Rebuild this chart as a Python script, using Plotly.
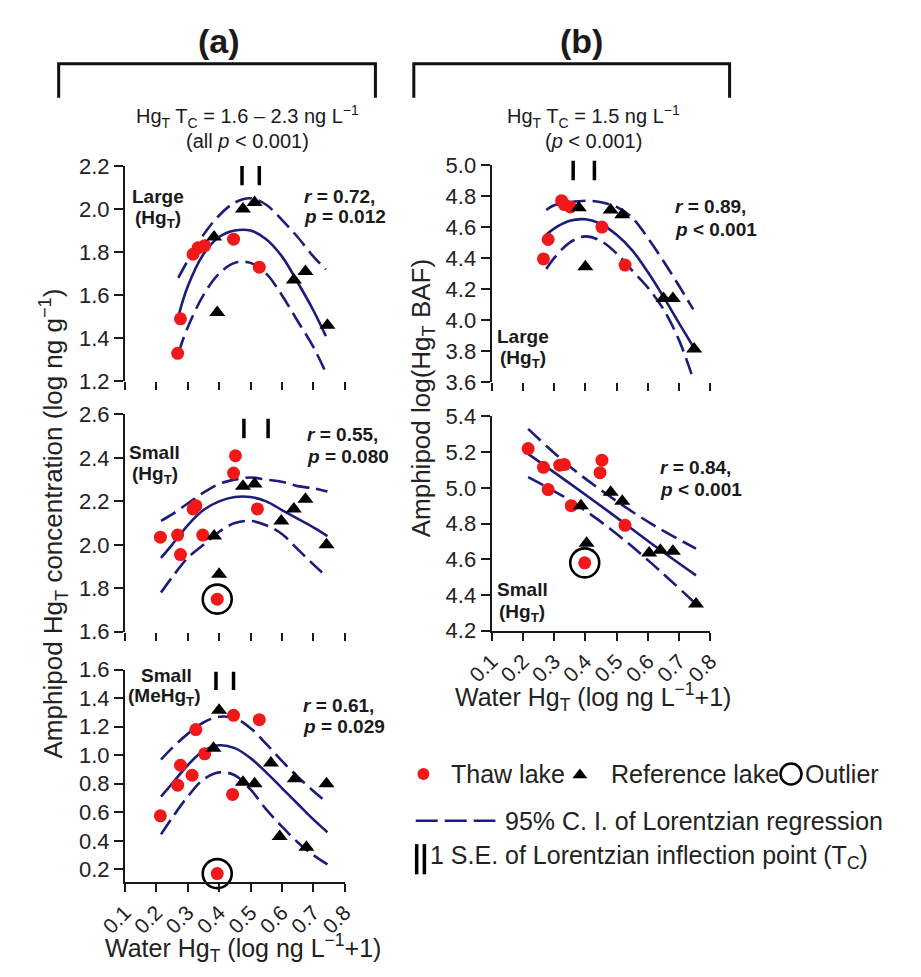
import plotly.graph_objects as go

W, H = 921, 977
FONT = "Liberation Sans, Arial, sans-serif"
NAVY = "#1c1c7a"
RED = "#f01818"
INK = "#1a1a1a"

# ---------------- data ----------------
x_ticks = [0.1, 0.2, 0.3, 0.4, 0.5, 0.6, 0.7, 0.8]
x_ticklabels = ["0.1", "0.2", "0.3", "0.4", "0.5", "0.6", "0.7", "0.8"]

# (a) top: Large, HgT
a1_thaw_x = [0.268, 0.277, 0.317, 0.333, 0.354, 0.446, 0.528]
a1_thaw_y = [1.33, 1.49, 1.79, 1.82, 1.83, 1.86, 1.73]
a1_ref_x = [0.384, 0.394, 0.476, 0.513, 0.638, 0.675, 0.745]
a1_ref_y = [1.87, 1.52, 2.00, 2.03, 1.67, 1.71, 1.46]
a1_fit_x = [0.27, 0.30, 0.35, 0.40, 0.45, 0.50, 0.55, 0.60, 0.65, 0.70, 0.74]
a1_fit = [1.50, 1.64, 1.79, 1.87, 1.90, 1.90, 1.86, 1.78, 1.66, 1.53, 1.41]
a1_hi = [1.68, 1.76, 1.88, 1.97, 2.03, 2.05, 2.02, 1.95, 1.87, 1.78, 1.72]
a1_lo = [1.33, 1.45, 1.60, 1.70, 1.75, 1.75, 1.70, 1.60, 1.48, 1.36, 1.24]
a1_tc_se = [0.473, 0.528]
a1_yticks = [1.2, 1.4, 1.6, 1.8, 2.0, 2.2]

# (a) middle: Small, HgT
a2_thaw_x = [0.213, 0.268, 0.277, 0.317, 0.326, 0.348, 0.446, 0.452, 0.522]
a2_thaw_y = [2.035, 2.045, 1.955, 2.165, 2.18, 2.045, 2.33, 2.41, 2.165]
a2_out_x = [0.394]
a2_out_y = [1.75]
a2_ref_x = [0.384, 0.400, 0.476, 0.513, 0.598, 0.638, 0.675, 0.742]
a2_ref_y = [2.04, 1.865, 2.27, 2.28, 2.11, 2.165, 2.21, 2.00]
a2_fit_x = [0.215, 0.25, 0.30, 0.35, 0.40, 0.45, 0.50, 0.55, 0.60, 0.65, 0.70, 0.745]
a2_fit = [1.94, 2.00, 2.09, 2.16, 2.20, 2.22, 2.22, 2.20, 2.16, 2.12, 2.08, 2.04]
a2_hi = [2.11, 2.14, 2.19, 2.24, 2.28, 2.30, 2.31, 2.30, 2.29, 2.27, 2.26, 2.245]
a2_lo = [1.78, 1.85, 1.94, 2.00, 2.06, 2.10, 2.11, 2.09, 2.05, 1.98, 1.91, 1.85]
a2_tc_se = [0.479, 0.556]
a2_yticks = [1.6, 1.8, 2.0, 2.2, 2.4, 2.6]

# (a) bottom: Small, MeHgT
a3_thaw_x = [0.213, 0.268, 0.277, 0.314, 0.326, 0.354, 0.443, 0.446, 0.528]
a3_thaw_y = [0.575, 0.79, 0.93, 0.86, 1.18, 1.01, 0.725, 1.28, 1.25]
a3_out_x = [0.394]
a3_out_y = [0.17]
a3_ref_x = [0.382, 0.400, 0.476, 0.513, 0.565, 0.593, 0.641, 0.678, 0.742]
a3_ref_y = [1.05, 1.315, 0.81, 0.80, 0.945, 0.43, 0.835, 0.355, 0.80]
a3_fit_x = [0.215, 0.25, 0.30, 0.35, 0.40, 0.45, 0.50, 0.55, 0.60, 0.65, 0.70, 0.745]
a3_fit = [0.71, 0.80, 0.93, 1.03, 1.07, 1.05, 0.98, 0.88, 0.77, 0.66, 0.55, 0.46]
a3_hi = [0.97, 1.05, 1.15, 1.23, 1.27, 1.26, 1.19, 1.08, 0.96, 0.85, 0.75, 0.665]
a3_lo = [0.445, 0.56, 0.71, 0.83, 0.88, 0.86, 0.76, 0.62, 0.50, 0.39, 0.30, 0.235]
a3_tc_se = [0.390, 0.446]
a3_yticks = [0.2, 0.4, 0.6, 0.8, 1.0, 1.2, 1.4, 1.6]

# (b) top: Large, HgT BAF
b1_thaw_x = [0.266, 0.281, 0.324, 0.333, 0.352, 0.453, 0.527]
b1_thaw_y = [4.395, 4.52, 4.77, 4.745, 4.73, 4.60, 4.355]
b1_ref_x = [0.379, 0.400, 0.481, 0.518, 0.650, 0.680, 0.748]
b1_ref_y = [4.725, 4.345, 4.71, 4.68, 4.14, 4.14, 3.815]
b1_fit_x = [0.275, 0.30, 0.35, 0.40, 0.45, 0.50, 0.55, 0.60, 0.65, 0.70, 0.745]
b1_fit = [4.55, 4.59, 4.64, 4.65, 4.62, 4.55, 4.45, 4.31, 4.15, 3.98, 3.83]
b1_hi = [4.71, 4.74, 4.76, 4.77, 4.76, 4.73, 4.66, 4.53, 4.38, 4.22, 4.07]
b1_lo = [4.33, 4.40, 4.50, 4.54, 4.51, 4.43, 4.32, 4.21, 4.07, 3.87, 3.62]
b1_tc_se = [0.361, 0.429]
b1_yticks = [3.6, 3.8, 4.0, 4.2, 4.4, 4.6, 4.8, 5.0]

# (b) bottom: Small, HgT BAF
b2_thaw_x = [0.217, 0.266, 0.281, 0.318, 0.333, 0.355, 0.447, 0.453, 0.527]
b2_thaw_y = [5.22, 5.115, 4.99, 5.127, 5.13, 4.90, 5.085, 5.155, 4.79]
b2_out_x = [0.398]
b2_out_y = [4.58]
b2_ref_x = [0.386, 0.404, 0.481, 0.518, 0.604, 0.640, 0.680, 0.754]
b2_ref_y = [4.90, 4.69, 4.975, 4.925, 4.635, 4.65, 4.645, 4.35]
b2_fit_x = [0.217, 0.35, 0.48, 0.61, 0.754]
b2_fit = [5.19, 5.025, 4.86, 4.69, 4.51]
b2_hi = [5.33, 5.12, 4.95, 4.80, 4.66]
b2_lo = [5.06, 4.93, 4.77, 4.58, 4.35]
b2_yticks = [4.2, 4.4, 4.6, 4.8, 5.0, 5.2, 5.4]


def px(x):
    return x / W


def py(y):
    return 1 - y / H


fig = go.Figure()

panels = [
    dict(n="", thaw=(a1_thaw_x, a1_thaw_y), ref=(a1_ref_x, a1_ref_y), out=None,
         fit=(a1_fit_x, a1_fit, a1_hi, a1_lo), tc=a1_tc_se, ypx=(158, 379),
         rng=[1.2, 2.2], yt=a1_yticks, left=True, bottom=False, se=(0.91, 1.0)),
    dict(n="2", thaw=(a2_thaw_x, a2_thaw_y), ref=(a2_ref_x, a2_ref_y), out=(a2_out_x, a2_out_y),
         fit=(a2_fit_x, a2_fit, a2_hi, a2_lo), tc=a2_tc_se, ypx=(413, 636),
         rng=[1.6, 2.6], yt=a2_yticks, left=True, bottom=False, se=(0.89, 0.98)),
    dict(n="3", thaw=(a3_thaw_x, a3_thaw_y), ref=(a3_ref_x, a3_ref_y), out=(a3_out_x, a3_out_y),
         fit=(a3_fit_x, a3_fit, a3_hi, a3_lo), tc=a3_tc_se, ypx=(675, 893),
         rng=[0.11, 1.6], yt=a3_yticks, left=True, bottom=True, se=(0.905, 0.99)),
    dict(n="4", thaw=(b1_thaw_x, b1_thaw_y), ref=(b1_ref_x, b1_ref_y), out=None,
         fit=(b1_fit_x, b1_fit, b1_hi, b1_lo), tc=b1_tc_se, ypx=(157, 380),
         rng=[3.6, 5.0], yt=b1_yticks, left=False, bottom=False, se=(0.93, 1.02)),
    dict(n="5", thaw=(b2_thaw_x, b2_thaw_y), ref=(b2_ref_x, b2_ref_y), out=(b2_out_x, b2_out_y),
         fit=(b2_fit_x, b2_fit, b2_hi, b2_lo), tc=None, ypx=(415, 635),
         rng=[4.2, 5.4], yt=b2_yticks, left=False, bottom=True, se=None),
]

LEFT_X = [px(102), px(331)]
RIGHT_X = [px(484), px(712)]

shapes = []
layout_axes = {}

for p in panels:
    n = p["n"]
    xa = "x" + n
    ya = "y" + n
    fx, fy, fhi, flo = p["fit"]
    for yy in (fhi, flo):
        fig.add_trace(go.Scatter(x=fx, y=yy, mode="lines",
                                 line=dict(color=NAVY, width=2.6, dash="17px,7px", shape="spline"),
                                 xaxis=xa, yaxis=ya, hoverinfo="skip"))
    fig.add_trace(go.Scatter(x=fx, y=fy, mode="lines", line=dict(color=NAVY, width=2.6, shape="spline"),
                             xaxis=xa, yaxis=ya, hoverinfo="skip"))
    fig.add_trace(go.Scatter(x=p["thaw"][0], y=p["thaw"][1], mode="markers",
                             marker=dict(color=RED, size=13, line=dict(width=0)),
                             xaxis=xa, yaxis=ya, cliponaxis=False))
    fig.add_trace(go.Scatter(x=p["ref"][0], y=p["ref"][1], mode="markers",
                             marker=dict(color="black", size=14, symbol="triangle-up", line=dict(width=0)),
                             xaxis=xa, yaxis=ya, cliponaxis=False))
    if p["out"] is not None:
        fig.add_trace(go.Scatter(x=p["out"][0], y=p["out"][1], mode="markers",
                                 marker=dict(color=RED, size=13, line=dict(width=0)),
                                 xaxis=xa, yaxis=ya, cliponaxis=False))
        fig.add_trace(go.Scatter(x=p["out"][0], y=p["out"][1], mode="markers",
                                 marker=dict(color="black", size=29, symbol="circle-open",
                                             line=dict(color="black", width=2.6)),
                                 xaxis=xa, yaxis=ya, cliponaxis=False))
    if p["tc"] is not None:
        for xv in p["tc"]:
            shapes.append(dict(type="line", xref=xa, yref=ya + " domain", x0=xv, x1=xv,
                               y0=p["se"][0], y1=p["se"][1], line=dict(color="black", width=3.5)))

    top, bot = p["ypx"]
    xdom = LEFT_X if p["left"] else RIGHT_X
    xcfg = dict(domain=xdom, range=[0.1, 0.8], anchor=ya, tickvals=x_ticks, ticks="outside",
                ticklen=8, tickwidth=2, tickcolor=INK, showgrid=False, zeroline=False)
    if p["bottom"]:
        xcfg.update(showline=True, linecolor=INK, linewidth=2, showticklabels=True,
                    ticktext=x_ticklabels, tickangle=-45,
                    tickfont=dict(family=FONT, size=21, color="#222"))
    else:
        xcfg.update(showline=False, showticklabels=False)
    ycfg = dict(domain=[py(bot), py(top)], range=p["rng"], anchor=xa, tickvals=p["yt"],
                ticktext=["%.1f" % v for v in p["yt"]], ticks="outside", ticklen=9, tickwidth=2,
                tickcolor=INK, showline=True, linecolor=INK, linewidth=2, showgrid=False,
                zeroline=False, tickfont=dict(family=FONT, size=22, color="#222"))
    layout_axes["xaxis" + n] = xcfg
    layout_axes["yaxis" + n] = ycfg

# overlay pixel axis for the legend samples
layout_axes["xaxis6"] = dict(domain=[0, 1], range=[0, W], visible=False, anchor="y6")
layout_axes["yaxis6"] = dict(domain=[0, 1], range=[H, 0], visible=False, anchor="x6")

fig.add_trace(go.Scatter(x=[413], y=[782], mode="markers", marker=dict(color=RED, size=12),
                         xaxis="x6", yaxis="y6"))
fig.add_trace(go.Scatter(x=[576], y=[783], mode="markers",
                         marker=dict(color="black", size=13, symbol="triangle-up"),
                         xaxis="x6", yaxis="y6"))
fig.add_trace(go.Scatter(x=[796], y=[782], mode="markers",
                         marker=dict(color="black", size=21, symbol="circle-open",
                                     line=dict(color="black", width=2.5)),
                         xaxis="x6", yaxis="y6"))
fig.add_trace(go.Scatter(x=[405, 488], y=[830, 830], mode="lines",
                         line=dict(color=NAVY, width=2.6, dash="22px,7px"),
                         xaxis="x6", yaxis="y6"))
for xv in (406, 414):
    fig.add_trace(go.Scatter(x=[xv, xv], y=[854, 885], mode="lines",
                             line=dict(color="black", width=3.5), xaxis="x6", yaxis="y6"))

# brackets
for x0, x1 in ((33, 363), (403, 732)):
    shapes.append(dict(type="path", xref="paper", yref="paper",
                       path="M %f %f L %f %f L %f %f L %f %f" % (px(x0), py(88), px(x0), py(53),
                                                               px(x1), py(53), px(x1), py(88)),
                       line=dict(color="#111", width=3)))

ann = []


def text(x, y, s, size=19, xanchor="left", angle=0, color="#1a1a1a"):
    ann.append(dict(x=px(x), y=py(y), xref="paper", yref="paper", text=s, showarrow=False,
                    xanchor=xanchor, yanchor="middle", textangle=angle,
                    font=dict(family=FONT, size=size, color=color)))


text(200, 30, "<b>(a)</b>", size=34, xanchor="center")
text(578, 30, "<b>(b)</b>", size=34, xanchor="center")
text(230, 107, "Hg<sub>T</sub> T<sub>C</sub> = 1.6 – 2.3 ng L<sup>−1</sup>", size=20, xanchor="center")
text(230, 132, "(all <i>p</i> &lt; 0.001)", size=20, xanchor="center")
text(590, 107, "Hg<sub>T</sub> T<sub>C</sub> = 1.5 ng L<sup>−1</sup>", size=20, xanchor="center")
text(590, 132, "(<i>p</i> &lt; 0.001)", size=20, xanchor="center")

# panel labels
text(136, 189, "<b>Large</b>", xanchor="center")
text(136, 212, "<b>(Hg<sub>T</sub>)</b>", xanchor="center")
text(287, 189, "<b><i>r</i> = 0.72,</b>")
text(287, 210, "<b><i>p</i> = 0.012</b>")

text(133, 452, "<b>Small</b>", xanchor="center")
text(133, 475, "<b>(Hg<sub>T</sub>)</b>", xanchor="center")
text(290, 434, "<b><i>r</i> = 0.55,</b>")
text(290, 456, "<b><i>p</i> = 0.080</b>")

text(145, 681, "<b>Small</b>", xanchor="center")
text(143, 703, "<b>(MeHg<sub>T</sub>)</b>", xanchor="center")
text(285, 712, "<b><i>r</i> = 0.61,</b>")
text(285, 733, "<b><i>p</i> = 0.029</b>")

text(673, 200, "<b><i>r</i> = 0.89,</b>")
text(673, 223, "<b><i>p</i> &lt; 0.001</b>")
text(517, 333, "<b>Large</b>", xanchor="center")
text(517, 356, "<b>(Hg<sub>T</sub>)</b>", xanchor="center")

text(657, 467, "<b><i>r</i> = 0.84,</b>")
text(657, 490, "<b><i>p</i> &lt; 0.001</b>")
text(516, 593, "<b>Small</b>", xanchor="center")
text(516, 617, "<b>(Hg<sub>T</sub>)</b>", xanchor="center")

# axis titles
text(27, 525, "Amphipod Hg<sub>T</sub> concentration (log ng g<sup>−1</sup>)", size=26,
     xanchor="center", angle=-90, color="#222")
text(412, 396, "Amphipod log(Hg<sub>T</sub> BAF)", size=26, xanchor="center", angle=-90, color="#222")
text(225, 961, "Water Hg<sub>T</sub> (log ng L<sup>−1</sup>+1)", size=25, xanchor="center", color="#222")
text(590, 703, "Water Hg<sub>T</sub> (log ng L<sup>−1</sup>+1)", size=25, xanchor="center", color="#222")

# legend texts
text(440, 782, "Thaw lake", size=25, color="#222")
text(606, 782, "Reference lake", size=25, color="#222")
text(809, 782, "Outlier", size=25, color="#222")
text(496, 830, "95% C. I. of Lorentzian regression", size=25, color="#222")
text(418, 867, "1 S.E. of Lorentzian inflection point (T<sub>C</sub>)", size=25, color="#222")

fig.update_layout(width=W, height=H, margin=dict(l=0, r=0, t=0, b=0), paper_bgcolor="white",
                  plot_bgcolor="rgba(0,0,0,0)", showlegend=False, shapes=shapes, annotations=ann,
                  font=dict(family=FONT), **layout_axes)

fig.write_html("out.html", config={"displayModeBar": False},
               post_script="document.body.style.margin='0px';")
